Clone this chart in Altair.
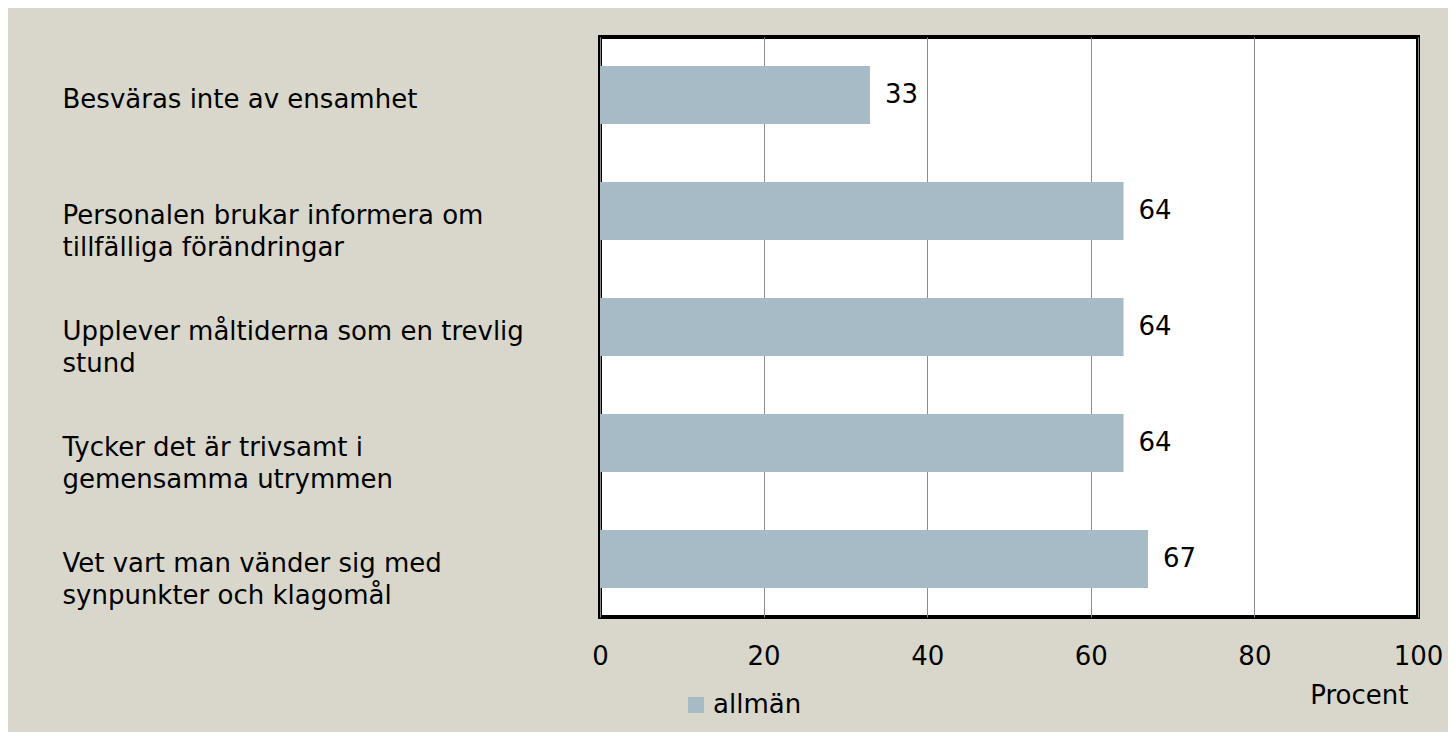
import altair as alt
import pandas as pd

categories = [
    "Besväras inte av ensamhet",
    "Personalen brukar informera om\ntillfälliga förändringar",
    "Upplever måltiderna som en trevlig\nstund",
    "Tycker det är trivsamt i\ngemensamma utrymmen",
    "Vet vart man vänder sig med\nsynpunkter och klagomål",
]
values = [33, 64, 64, 64, 67]
series = ["allmän"] * 5
x_ticks = [0, 20, 40, 60, 80, 100]

df = pd.DataFrame({"kategori": categories, "varde": values, "serie": series})

FONT = "DejaVu Sans"
FS = 26
BG = "#D9D7CB"
BAR = "#A7BBC6"

y_enc = alt.Y(
    "kategori:N",
    sort=categories,
    scale=alt.Scale(paddingInner=0.5, paddingOuter=0.25),
    axis=alt.Axis(
        title=None,
        labelAlign="left",
        labelPadding=538,
        labelBaseline="top",
        labelOffset=-8,
        labelExpr="split(datum.label, '\\n')",
        labelFont=FONT,
        labelFontSize=FS,
        labelColor="#000000",
        labelLineHeight=32,
        labelLimit=600,
        ticks=False,
        tickSize=0,
        domain=False,
        grid=False,
    ),
)

x_enc = alt.X(
    "varde:Q",
    scale=alt.Scale(domain=[0, 100], nice=False),
    axis=alt.Axis(
        values=x_ticks,
        title="Procent",
        titleX=808,
        titleY=78,
        titleAlign="right",
        titleBaseline="middle",
        titleFont=FONT,
        titleFontSize=FS,
        titleFontWeight="normal",
        titleColor="#000000",
        labelFont=FONT,
        labelFontSize=FS,
        labelColor="#000000",
        labelPadding=26,
        labelFlush=False,
        ticks=False,
        tickSize=0,
        domain=False,
        grid=True,
        gridColor="#8C8C8C",
        gridWidth=1,
    ),
)

bars = alt.Chart(df).mark_bar(color=BAR).encode(
    x=x_enc,
    y=y_enc,
    color=alt.Color(
        "serie:N",
        scale=alt.Scale(range=[BAR]),
        legend=alt.Legend(
            title=None,
            orient="none",
            legendX=83,
            legendY=655,
            symbolType="square",
            symbolSize=256,
            symbolStrokeWidth=0,
            labelFont=FONT,
            labelFontSize=FS,
            labelColor="#000000",
            labelOffset=4,
        ),
    ),
)

labels = alt.Chart(df).mark_text(
    align="left", baseline="middle", dx=15, font=FONT, fontSize=FS, color="#000000"
).encode(
    x=alt.X("varde:Q"),
    y=alt.Y("kategori:N", sort=categories),
    text=alt.Text("varde:Q"),
)

chart = (
    alt.layer(bars, labels)
    .properties(
        width=818,
        height=580,
        background=BG,
        padding={"left": 592, "top": 29, "right": 30, "bottom": 115},
        autosize=alt.AutoSizeParams(type="none"),
    )
    .configure_view(stroke="#000000", strokeWidth=4, fill="#FFFFFF")
)

chart.save("out.html", embed_options={"renderer": "svg", "actions": False})
